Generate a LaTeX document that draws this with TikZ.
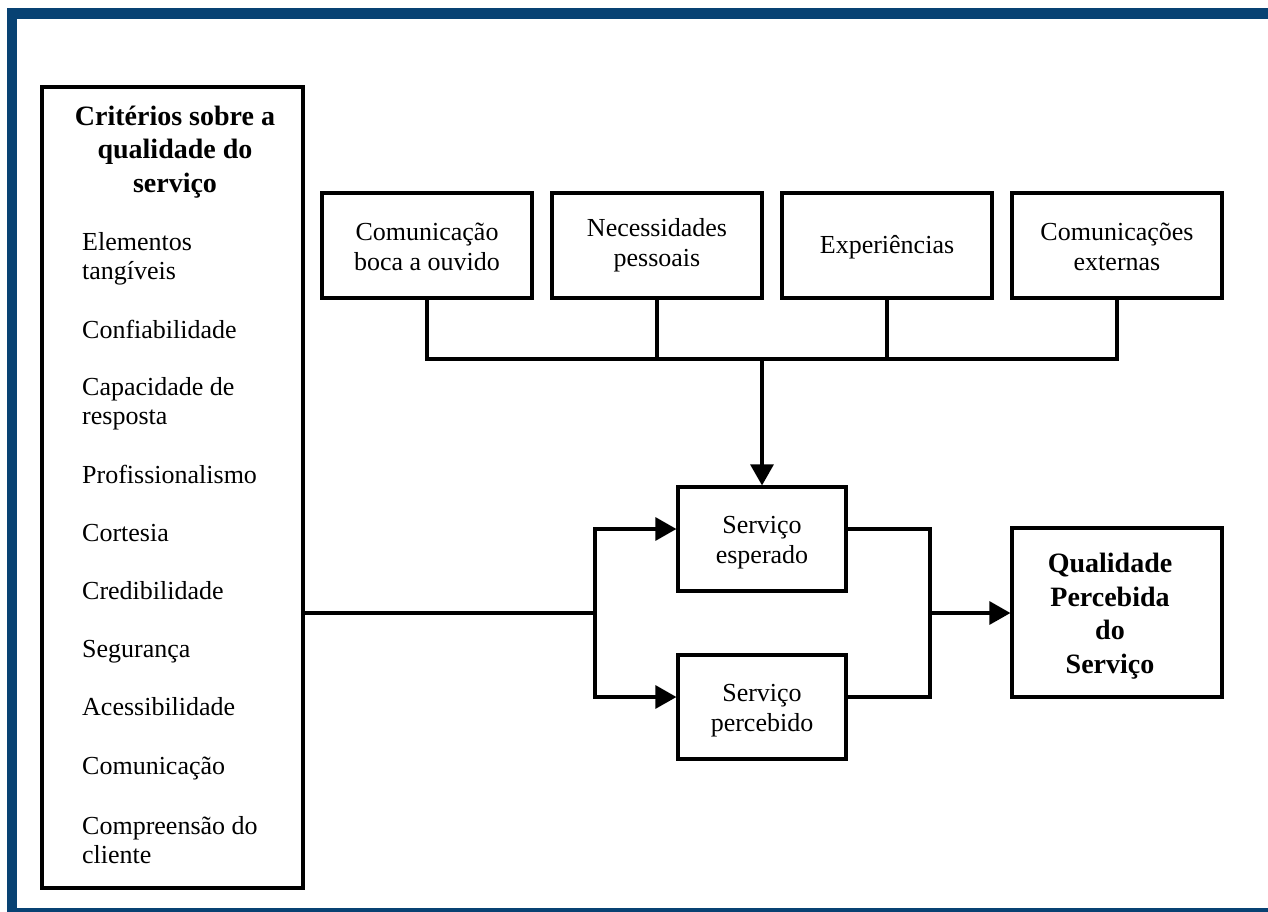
\documentclass[tikz,border=0pt]{standalone}
\usepackage{fontspec}
\setmainfont{Liberation Serif}
\usetikzlibrary{arrows.meta}
\definecolor{frameblue}{RGB}{8,66,115}
\begin{document}
\begin{tikzpicture}[x=1pt,y=-1pt,
  box/.style={draw=black,line width=3.2pt,rectangle,inner sep=0pt,fill=white},
  txt/.style={font=\fontsize{26}{30}\selectfont,align=center,inner sep=0pt},
  itm/.style={font=\fontsize{26}{29}\selectfont,align=left,anchor=west,inner sep=0pt},
  sitm/.style={font=\fontsize{26}{29}\selectfont,anchor=base west,inner sep=0pt},
  btxt/.style={font=\fontsize{28}{33.5}\selectfont\bfseries,align=center,inner sep=0pt},
  conn/.style={line width=3.2pt,line cap=rect},
  arr/.style={line width=3.2pt,-{Triangle[length=21pt,width=23pt]}}]
\useasboundingbox (0,0) rectangle (1268,912);
% frame
\fill[frameblue] (7,8) rectangle (1268,19);
\fill[frameblue] (7,8) rectangle (17,912);
\fill[frameblue] (7,908) rectangle (1268,912);
% left box
\node[box,minimum width=261pt,minimum height=801pt] (crit) at (172.5,487.5) {};
\node[btxt] (title) at (175,152) {Critérios sobre a\\qualidade do\\serviço};
\node[itm] (i1) at (82,258.5) {Elementos\\tangíveis};
\node[sitm] (i2) at (82,338) {Confiabilidade};
\node[itm] (i3) at (82,403.5) {Capacidade de\\resposta};
\node[sitm] (i4) at (82,483) {Profissionalismo};
\node[sitm] (i5) at (82,541) {Cortesia};
\node[sitm] (i6) at (82,599) {Credibilidade};
\node[sitm] (i7) at (82,657) {Segurança};
\node[sitm] (i8) at (82,715) {Acessibilidade};
\node[sitm] (i9) at (82,774) {Comunicação};
\node[itm] (i10) at (82,840.5) {Compreensão do\\cliente};
% top boxes
\node[box,minimum width=210pt,minimum height=105pt] (b1) at (427,245.5) {};
\node[txt] at (427,247) {Comunicação\\boca a ouvido};
\node[box,minimum width=210pt,minimum height=105pt] (b2) at (657,245.5) {};
\node[txt] at (657,245) {Necessidades\\pessoais};
\node[box,minimum width=210pt,minimum height=105pt] (b3) at (887,245.5) {};
\node[txt] at (887,247) {Experiências};
\node[box,minimum width=210pt,minimum height=105pt] (b4) at (1117,245.5) {};
\node[txt] at (1117,247) {Comunicações\\externas};
% middle boxes
\node[box,minimum width=168pt,minimum height=104pt] (esp) at (762,539) {};
\node[txt] at (762,542.5) {Serviço\\esperado};
\node[box,minimum width=168pt,minimum height=104pt] (per) at (762,707) {};
\node[txt] at (762,711) {Serviço\\percebido};
% quality box
\node[box,minimum width=210pt,minimum height=169pt] (qual) at (1117,612.5) {};
\node[btxt] at (1110,616) {Qualidade\\Percebida\\do\\Serviço};
% connectors top
\coordinate (j) at (762,359);
\draw[conn] (b1.south) |- (b4.south |- j) -- (b4.south);
\draw[conn] (b2.south) -- (b2.south |- j);
\draw[conn] (b3.south) -- (b3.south |- j);
\draw[arr] (j) -- (esp.north);
% left to middle
\coordinate (sp) at (595,613);
\draw[conn] (crit.east |- sp) -- (sp);
\draw[arr] (sp) |- (esp.west |- 0,529);
\draw[arr] (sp) |- (per.west |- 0,697);
% middle to right
\coordinate (mj) at (930,613);
\draw[conn] (esp.east |- 0,529) -| (mj) |- (per.east |- 0,697);
\draw[arr] (mj) -- (qual.west |- mj);
\end{tikzpicture}
\end{document}
